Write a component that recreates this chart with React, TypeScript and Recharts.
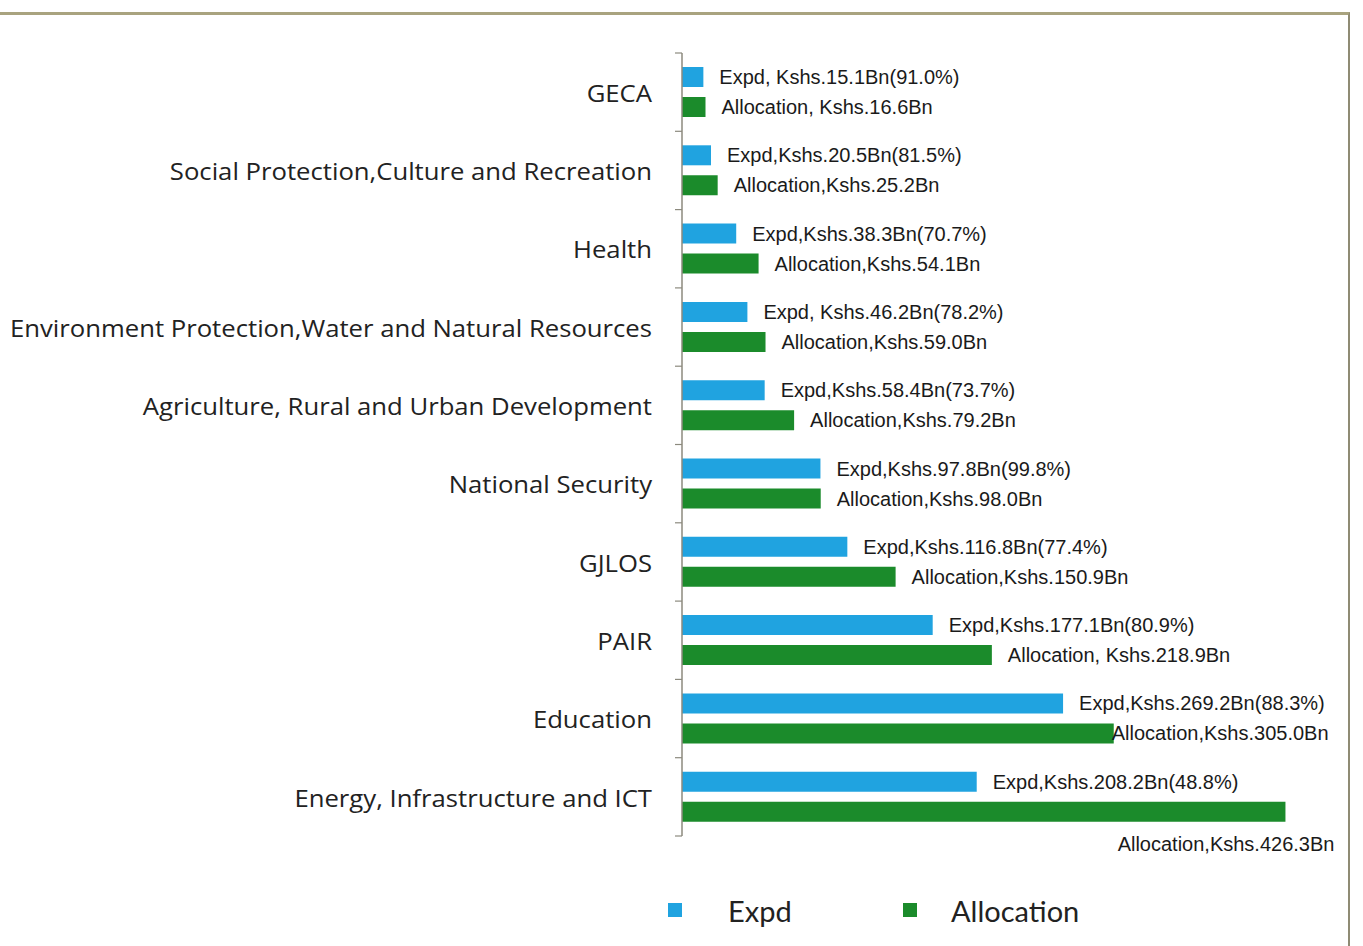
import React from "react";
import { BarChart, Bar, XAxis, YAxis, Legend, LabelList } from "recharts";

const categories = [
  "GECA",
  "Social Protection,Culture and Recreation",
  "Health",
  "Environment Protection,Water and Natural Resources",
  "Agriculture, Rural and Urban Development",
  "National Security",
  "GJLOS",
  "PAIR",
  "Education",
  "Energy, Infrastructure and ICT",
];
const expd = [15.1, 20.5, 38.3, 46.2, 58.4, 97.8, 116.8, 177.1, 269.2, 208.2];
const allocation = [16.6, 25.2, 54.1, 59.0, 79.2, 98.0, 150.9, 218.9, 305.0, 426.3];
const expdLabels = [
  "Expd, Kshs.15.1Bn(91.0%)",
  "Expd,Kshs.20.5Bn(81.5%)",
  "Expd,Kshs.38.3Bn(70.7%)",
  "Expd, Kshs.46.2Bn(78.2%)",
  "Expd,Kshs.58.4Bn(73.7%)",
  "Expd,Kshs.97.8Bn(99.8%)",
  "Expd,Kshs.116.8Bn(77.4%)",
  "Expd,Kshs.177.1Bn(80.9%)",
  "Expd,Kshs.269.2Bn(88.3%)",
  "Expd,Kshs.208.2Bn(48.8%)",
];
const allocationLabels = [
  "Allocation, Kshs.16.6Bn",
  "Allocation,Kshs.25.2Bn",
  "Allocation,Kshs.54.1Bn",
  "Allocation,Kshs.59.0Bn",
  "Allocation,Kshs.79.2Bn",
  "Allocation,Kshs.98.0Bn",
  "Allocation,Kshs.150.9Bn",
  "Allocation, Kshs.218.9Bn",
  "Allocation,Kshs.305.0Bn",
  "Allocation,Kshs.426.3Bn",
];
const seriesNames = ["Expd", "Allocation"];

const data = categories.map((name, i) => ({
  name,
  expd: expd[i],
  allocation: allocation[i],
  expdLabel: expdLabels[i],
  allocationLabel: allocationLabels[i],
}));

const W = 1363;
const H = 946;
const MARGIN = { top: 53, right: 44, bottom: 70, left: 0 };
const LEGEND_H = 40;
const AXIS_W = 682;
const PLOT_H = H - MARGIN.top - MARGIN.bottom - LEGEND_H;
const BAND = PLOT_H / categories.length;

const BLUE = "#20a3e0";
const GREEN = "#1b8b2b";
const AXIS = "#8c8a7e";
const LABEL_FONT = "'Liberation Sans', Arial, sans-serif";
const CAT_FONT = "'Open Sans', Lato, sans-serif";

const CategoryTick = (props: any) => {
  const { x, y, payload, index } = props;
  const axisX = x + 8;
  const isLast = index === categories.length - 1;
  return (
    <g>
      <line x1={axisX - 7} x2={axisX} y1={y - BAND / 2} y2={y - BAND / 2} stroke={AXIS} strokeWidth={1.2} />
      {isLast && (
        <line x1={axisX - 7} x2={axisX} y1={y + BAND / 2} y2={y + BAND / 2} stroke={AXIS} strokeWidth={1.2} />
      )}
      <text
        transform={`translate(${axisX - 30},${y}) scale(1.07,1)`}
        x={0}
        y={0}
        textAnchor="end"
        dominantBaseline="central"
        fontFamily={CAT_FONT}
        fontSize={24}
        fill="#222"
      >
        {payload.value}
      </text>
    </g>
  );
};

const makeLabel = (special: Record<number, { dx: number; dy: number; anchorEnd?: boolean }>) => (p: any) => {
  const { x, y, width, height, value, index } = p;
  const s = special[index];
  const endX = x + width;
  const cy = y + height / 2;
  const dx = s ? s.dx : 16;
  const dy = s ? s.dy : 0;
  return (
    <text
      x={endX + dx}
      y={cy + dy}
      textAnchor={s && s.anchorEnd ? "end" : "start"}
      dominantBaseline="central"
      fontFamily={LABEL_FONT}
      fontSize={20}
      fill="#1a1a1a"
    >
      {value}
    </text>
  );
};

const expdLabel = makeLabel({});
const allocLabel = makeLabel({ 8: { dx: -2, dy: 0 }, 9: { dx: 49, dy: 32, anchorEnd: true } });

const LegendContent = () => (
  <div style={{ height: LEGEND_H, position: "relative", width: W }}>
    {seriesNames.map((n, i) => (
      <div
        key={n}
        style={{
          position: "absolute",
          left: i === 0 ? 668 : 903,
          top: 0,
          display: "flex",
          alignItems: "center",
          height: LEGEND_H,
          fontFamily: "Lato, sans-serif",
          fontSize: 29,
          color: "#222",
        }}
      >
        <span style={{ width: 14, height: 14, background: i === 0 ? BLUE : GREEN, display: "inline-block" }} />
        <span style={{ marginLeft: i === 0 ? 46 : 34 }}>{n}</span>
      </div>
    ))}
  </div>
);

export default function App() {
  return (
    <div style={{ position: "absolute", left: 0, top: 0, width: W, height: H, background: "#fff", overflow: "hidden" }}>
      <div
        style={{
          position: "absolute",
          left: 0,
          top: 12,
          width: 1350,
          height: H,
          borderTop: "3px solid #a9a37f",
          borderRight: "2px solid #8f8b74",
          boxSizing: "border-box",
        }}
      />
      <div style={{ position: "absolute", left: 0, top: 0 }}>
        <BarChart
          width={W}
          height={H}
          data={data}
          layout="vertical"
          margin={MARGIN}
          barSize={20}
          barGap={10}
        >
          <XAxis type="number" domain={[0, 450]} hide />
          <YAxis
            type="category"
            dataKey="name"
            width={AXIS_W}
            axisLine={{ stroke: AXIS, strokeWidth: 1.5 }}
            tickLine={false}
            tick={<CategoryTick />}
            interval={0}
          />
          <Legend
            verticalAlign="bottom"
            content={<LegendContent />}
            wrapperStyle={{ top: 890, left: 0, width: W }}
          />
          <Bar dataKey="expd" name={seriesNames[0]} fill={BLUE} isAnimationActive={false}>
            <LabelList dataKey="expdLabel" content={expdLabel} />
          </Bar>
          <Bar dataKey="allocation" name={seriesNames[1]} fill={GREEN} isAnimationActive={false}>
            <LabelList dataKey="allocationLabel" content={allocLabel} />
          </Bar>
        </BarChart>
      </div>
    </div>
  );
}
